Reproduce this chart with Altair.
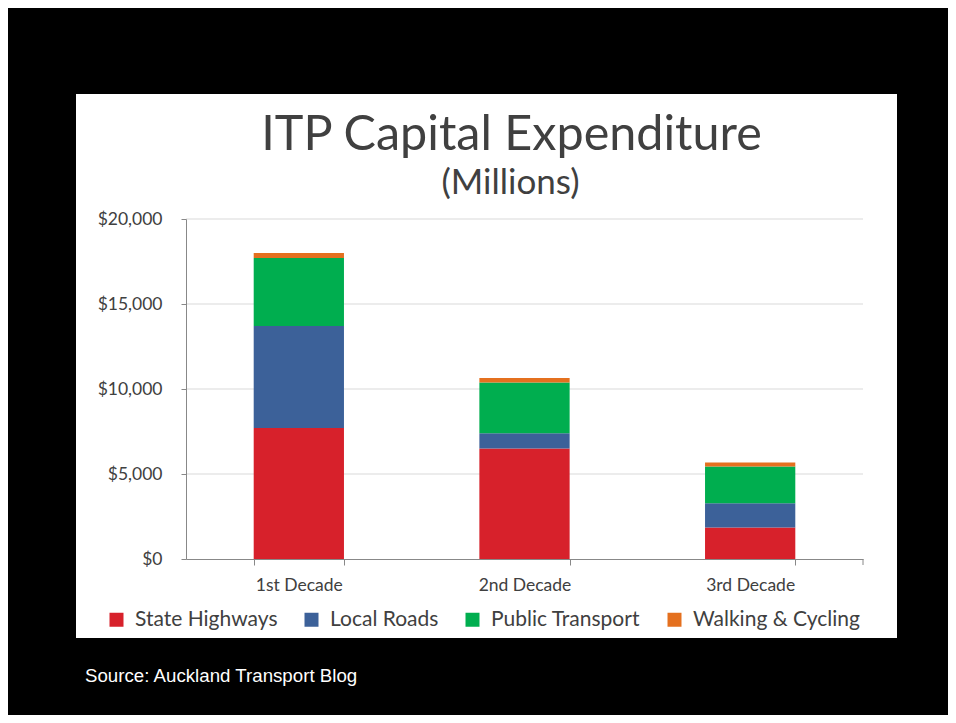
import altair as alt
import pandas as pd

decades = ["1st Decade", "2nd Decade", "3rd Decade"]
series = ["State Highways", "Local Roads", "Public Transport", "Walking & Cycling"]
state_highways = [7700, 6500, 1850]
local_roads = [6000, 900, 1430]
public_transport = [4000, 2980, 2160]
walking_cycling = [300, 260, 230]
colors = ["#D7212B", "#3C6199", "#00AE4F", "#E4701F"]
grid_values = [5000, 10000, 15000, 20000]
title_text = "ITP Capital Expenditure"
subtitle_text = "(Millions)"
source_text = "Source: Auckland Transport Blog"

rows = []
for i, (name, vals) in enumerate(zip(series, [state_highways, local_roads, public_transport, walking_cycling])):
    for d, v in zip(decades, vals):
        rows.append({"decade": d, "series": name, "value": v, "order": i})
df = pd.DataFrame(rows)

W, H = 677, 340
FONT = "Lato"
TXT = "#404040"

panel = alt.Chart(pd.DataFrame({"p": [1]})).mark_rect(color="white").encode(
    x=alt.value(-110), x2=alt.value(711), y=alt.value(-125), y2=alt.value(419)
)

grid = alt.Chart(pd.DataFrame({"g": grid_values})).mark_rule(color="#D9D9D9", strokeWidth=1).encode(
    y=alt.Y("g:Q", scale=alt.Scale(domain=[0, 20000])), x=alt.value(0), x2=alt.value(W)
)

bars = alt.Chart(df).mark_bar().encode(
    x=alt.X("decade:N", sort=decades,
            scale=alt.Scale(paddingInner=0.6, paddingOuter=0.3),
            axis=alt.Axis(title=None, labelAngle=0, tickBand="extent", tickSize=6,
                          labelPadding=11, labelFontSize=17.5, labelFont=FONT, labelColor=TXT,
                          domainColor="#888888", tickColor="#888888", grid=False, zindex=1)),
    y=alt.Y("value:Q", stack="zero",
            scale=alt.Scale(domain=[0, 20000]),
            axis=alt.Axis(title=None, values=[0, 5000, 10000, 15000, 20000], format="$,.0f",
                          tickSize=5, labelPadding=19, labelFontSize=17.5, labelFont=FONT,
                          labelColor=TXT, domainColor="#888888", tickColor="#888888",
                          grid=False, zindex=1)),
    color=alt.Color("series:N", sort=series,
                    scale=alt.Scale(domain=series, range=colors),
                    legend=alt.Legend(orient="none", legendX=-80, legendY=390, direction="horizontal",
                                      columns=4, title=None, symbolType="square", symbolSize=196,
                                      symbolStrokeWidth=0, symbolOpacity=1, labelFontSize=21,
                                      labelFont=FONT, labelColor=TXT, labelOffset=8,
                                      columnPadding=23, padding=0, labelLimit=400)),
    order=alt.Order("order:Q", sort="ascending"),
)

end_tick = alt.Chart(pd.DataFrame({"p": [1]})).mark_rule(color="#888888").encode(
    x=alt.value(W), y=alt.value(H), y2=alt.value(H + 6)
)

title = alt.Chart(pd.DataFrame({"t": [title_text]})).mark_text(
    font=FONT, fontSize=48.5, color=TXT, align="center", baseline="alphabetic"
).encode(text="t:N", x=alt.value(325.5), y=alt.value(-69))

subtitle = alt.Chart(pd.DataFrame({"t": [subtitle_text]})).mark_text(
    font=FONT, fontSize=35, color=TXT, align="center", baseline="alphabetic"
).encode(text="t:N", x=alt.value(324.5), y=alt.value(-25))

source = alt.Chart(pd.DataFrame({"t": [source_text]})).mark_text(
    font="Liberation Sans", fontSize=18.7, color="white", align="left", baseline="alphabetic"
).encode(text="t:N", x=alt.value(-101), y=alt.value(463))

chart = alt.layer(panel, grid, bars, end_tick, title, subtitle, source).properties(
    width=W, height=H, background="black",
    padding={"left": 178, "top": 211, "right": 85, "bottom": 156},
    autosize=alt.AutoSizeParams(type="none"),
).configure_view(stroke=None)

chart.save("out.html", embed_options={"renderer": "svg", "actions": False})
